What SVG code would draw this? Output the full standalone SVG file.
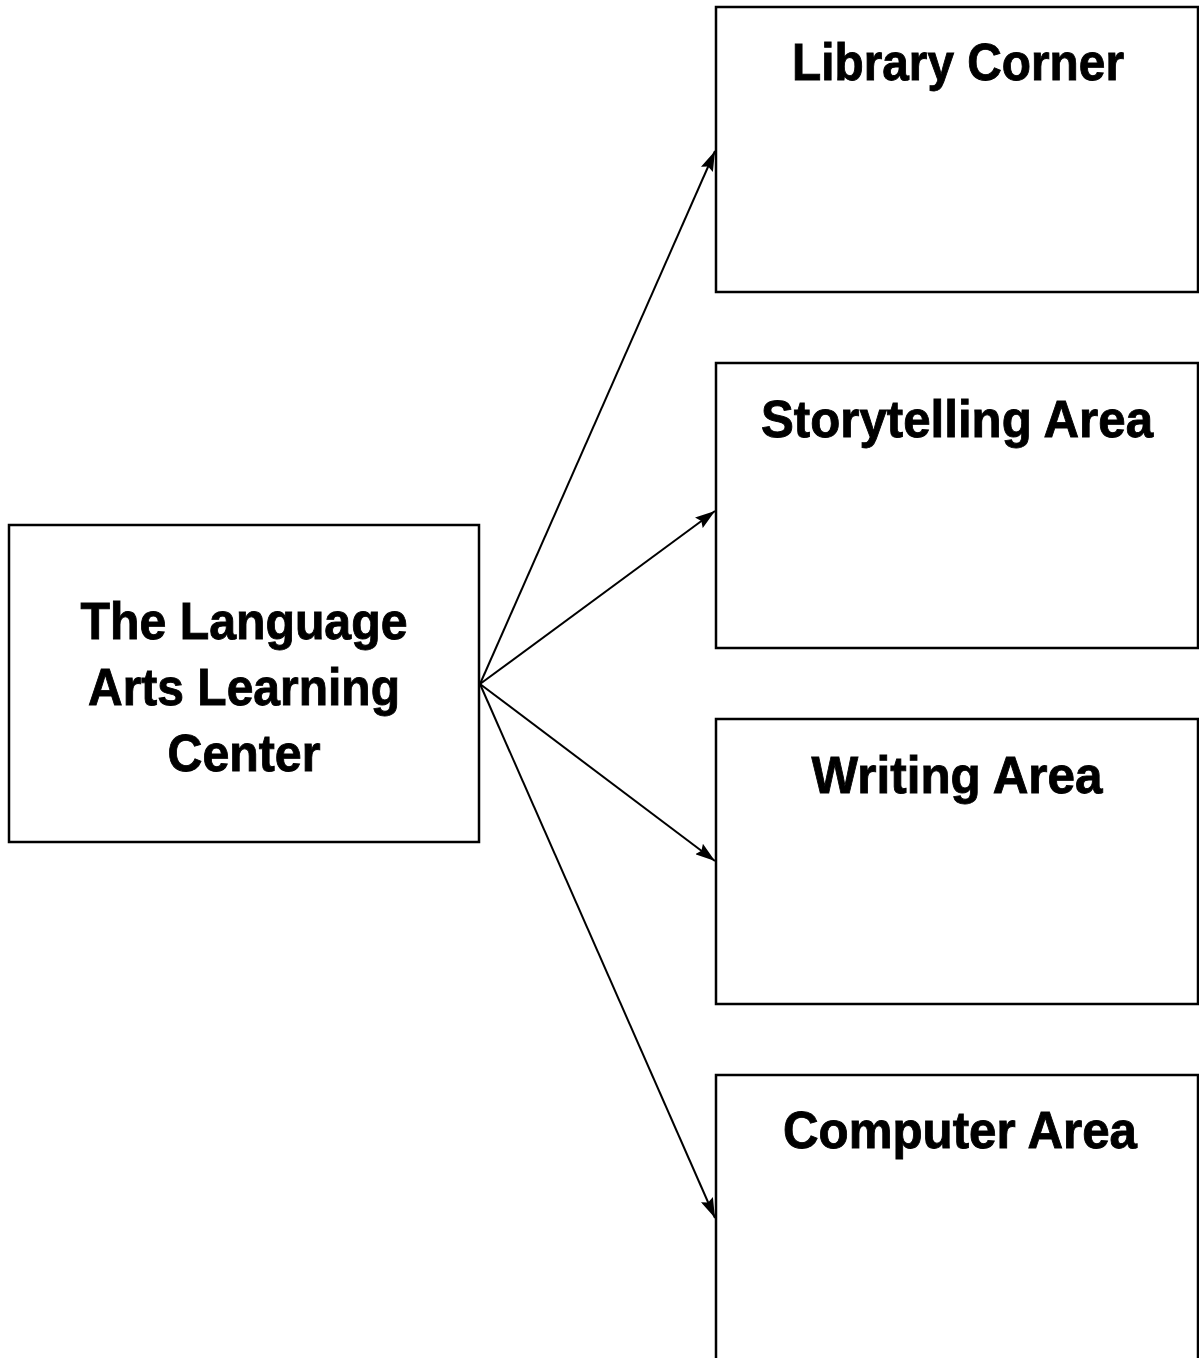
<svg xmlns="http://www.w3.org/2000/svg" width="1199" height="1358" viewBox="0 0 1199 1358">
  <style>
    .box { fill: #ffffff; stroke: #000000; stroke-width: 2.5; }
    .lbl { font-family: "Liberation Sans", Arial, sans-serif; font-weight: bold; font-size: 52px; fill: #000000; stroke: #000000; stroke-width: 0.9; text-anchor: middle; }
    .conn { stroke: #000000; stroke-width: 2; fill: none; marker-end: url(#arrow); }
  </style>
  <defs>
    <marker id="arrow" viewBox="0 0 20 13" refX="20" refY="6.5" markerWidth="20" markerHeight="13" markerUnits="userSpaceOnUse" orient="auto">
      <path d="M0,0 L20,6.5 L0,13 L3,6.5 z" fill="#000000"/>
    </marker>
  </defs>
  <rect x="0" y="0" width="1199" height="1358" fill="#ffffff"/>

  <g id="center">
    <rect class="box" x="9" y="525" width="470" height="317"/>
    <text class="lbl" x="244" y="639" textLength="327" lengthAdjust="spacingAndGlyphs">The Language</text>
    <text class="lbl" x="244" y="705" textLength="312" lengthAdjust="spacingAndGlyphs">Arts Learning</text>
    <text class="lbl" x="244" y="771" textLength="153" lengthAdjust="spacingAndGlyphs">Center</text>
  </g>

  <g id="library">
    <rect class="box" x="716" y="7" width="482" height="285"/>
    <text class="lbl" x="958" y="80" textLength="332" lengthAdjust="spacingAndGlyphs">Library Corner</text>
  </g>

  <g id="storytelling">
    <rect class="box" x="716" y="363" width="482" height="285"/>
    <text class="lbl" x="957" y="437" textLength="392" lengthAdjust="spacingAndGlyphs">Storytelling Area</text>
  </g>

  <g id="writing">
    <rect class="box" x="716" y="719" width="482" height="285"/>
    <text class="lbl" x="957" y="793" textLength="291" lengthAdjust="spacingAndGlyphs">Writing Area</text>
  </g>

  <g id="computer">
    <rect class="box" x="716" y="1075" width="482" height="300"/>
    <text class="lbl" x="960" y="1148" textLength="354" lengthAdjust="spacingAndGlyphs">Computer Area</text>
  </g>

  <g id="connectors">
    <line class="conn" x1="480" y1="684" x2="715" y2="151"/>
    <line class="conn" x1="480" y1="684" x2="715" y2="511"/>
    <line class="conn" x1="480" y1="684" x2="715" y2="861"/>
    <line class="conn" x1="480" y1="684" x2="715" y2="1218"/>
  </g>
</svg>
